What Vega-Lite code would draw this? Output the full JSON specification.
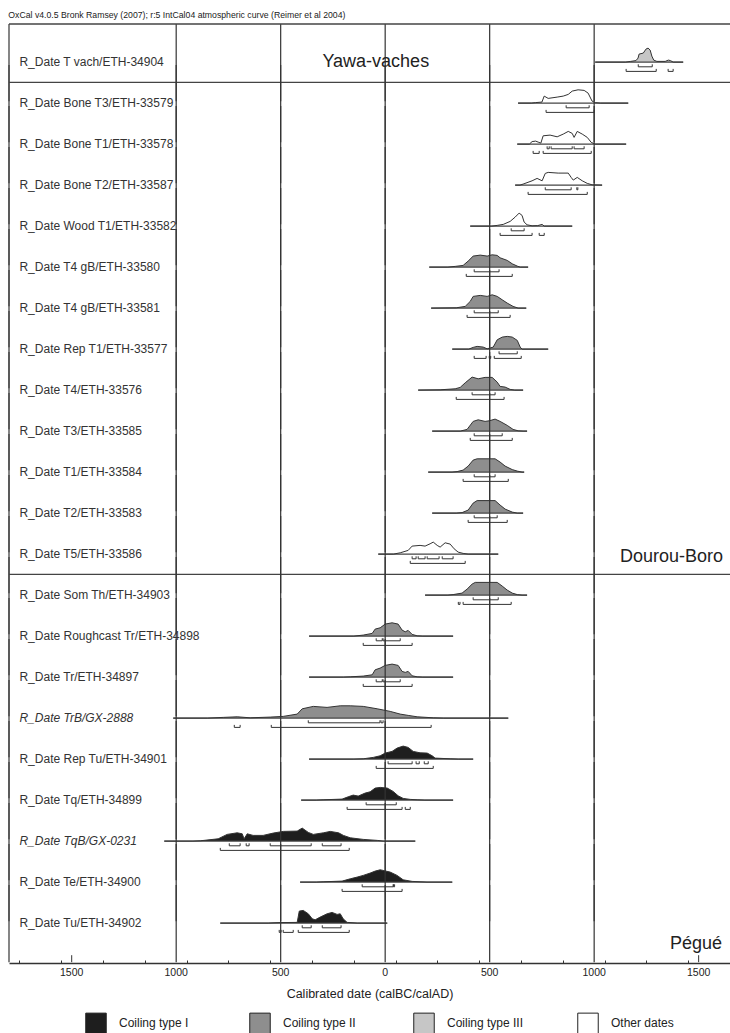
{
"$schema": "https://vega.github.io/schema/vega-lite/v6.json",
"padding": {"left": 8, "right": 0, "top": 10, "bottom": 0},
"title": {"text": "OxCal v4.0.5 Bronk Ramsey (2007); r:5 IntCal04 atmospheric curve (Reimer et al 2004)", "anchor": "start", "fontSize": 8.7, "fontWeight": "normal", "font": "Liberation Sans", "color": "#222", "offset": 4},
"datasets": {
"rows": [
{"kind":"s","id":"s01","label":"R_Date T vach/ETH-34904","site":"Yawa-vaches"},
{"kind":"s","id":"s02","label":"R_Date Bone T3/ETH-33579","site":"Dourou-Boro"},
{"kind":"s","id":"s03","label":"R_Date Bone T1/ETH-33578","site":"Dourou-Boro"},
{"kind":"s","id":"s04","label":"R_Date Bone T2/ETH-33587","site":"Dourou-Boro"},
{"kind":"s","id":"s05","label":"R_Date Wood T1/ETH-33582","site":"Dourou-Boro"},
{"kind":"s","id":"s06","label":"R_Date T4 gB/ETH-33580","site":"Dourou-Boro"},
{"kind":"s","id":"s07","label":"R_Date T4 gB/ETH-33581","site":"Dourou-Boro"},
{"kind":"s","id":"s08","label":"R_Date Rep T1/ETH-33577","site":"Dourou-Boro"},
{"kind":"s","id":"s09","label":"R_Date T4/ETH-33576","site":"Dourou-Boro"},
{"kind":"s","id":"s10","label":"R_Date T3/ETH-33585","site":"Dourou-Boro"},
{"kind":"s","id":"s11","label":"R_Date T1/ETH-33584","site":"Dourou-Boro"},
{"kind":"s","id":"s12","label":"R_Date T2/ETH-33583","site":"Dourou-Boro"},
{"kind":"s","id":"s13","label":"R_Date T5/ETH-33586","site":"Dourou-Boro"},
{"kind":"s","id":"s14","label":"R_Date Som Th/ETH-34903","site":"Pégué"},
{"kind":"s","id":"s15","label":"R_Date Roughcast Tr/ETH-34898","site":"Pégué"},
{"kind":"s","id":"s16","label":"R_Date Tr/ETH-34897","site":"Pégué"},
{"kind":"s","id":"s17","label":"R_Date TrB/GX-2888","site":"Pégué"},
{"kind":"s","id":"s18","label":"R_Date Rep Tu/ETH-34901","site":"Pégué"},
{"kind":"s","id":"s19","label":"R_Date Tq/ETH-34899","site":"Pégué"},
{"kind":"s","id":"s20","label":"R_Date TqB/GX-0231","site":"Pégué"},
{"kind":"s","id":"s21","label":"R_Date Te/ETH-34900","site":"Pégué"},
{"kind":"s","id":"s22","label":"R_Date Tu/ETH-34902","site":"Pégué"},

{"kind":"c","id":"s01","type":"Coiling type III","date":1005,"prob":0},
{"kind":"c","id":"s01","type":"Coiling type III","date":1150,"prob":0},
{"kind":"c","id":"s01","type":"Coiling type III","date":1175,"prob":0.7},
{"kind":"c","id":"s01","type":"Coiling type III","date":1200,"prob":1.5},
{"kind":"c","id":"s01","type":"Coiling type III","date":1210,"prob":4},
{"kind":"c","id":"s01","type":"Coiling type III","date":1215,"prob":8},
{"kind":"c","id":"s01","type":"Coiling type III","date":1235,"prob":9},
{"kind":"c","id":"s01","type":"Coiling type III","date":1248,"prob":13},
{"kind":"c","id":"s01","type":"Coiling type III","date":1258,"prob":14},
{"kind":"c","id":"s01","type":"Coiling type III","date":1268,"prob":12},
{"kind":"c","id":"s01","type":"Coiling type III","date":1276,"prob":6},
{"kind":"c","id":"s01","type":"Coiling type III","date":1285,"prob":2},
{"kind":"c","id":"s01","type":"Coiling type III","date":1300,"prob":0.7},
{"kind":"c","id":"s01","type":"Coiling type III","date":1340,"prob":0.7},
{"kind":"c","id":"s01","type":"Coiling type III","date":1355,"prob":2},
{"kind":"c","id":"s01","type":"Coiling type III","date":1365,"prob":1.5},
{"kind":"c","id":"s01","type":"Coiling type III","date":1378,"prob":0},
{"kind":"c","id":"s01","type":"Coiling type III","date":1426,"prob":0},

{"kind":"c","id":"s02","type":"Other dates","date":636,"prob":0},
{"kind":"c","id":"s02","type":"Other dates","date":700,"prob":0},
{"kind":"c","id":"s02","type":"Other dates","date":720,"prob":0.5},
{"kind":"c","id":"s02","type":"Other dates","date":750,"prob":1},
{"kind":"c","id":"s02","type":"Other dates","date":761,"prob":7},
{"kind":"c","id":"s02","type":"Other dates","date":780,"prob":4.7},
{"kind":"c","id":"s02","type":"Other dates","date":823,"prob":6},
{"kind":"c","id":"s02","type":"Other dates","date":852,"prob":7},
{"kind":"c","id":"s02","type":"Other dates","date":876,"prob":8.7},
{"kind":"c","id":"s02","type":"Other dates","date":895,"prob":12},
{"kind":"c","id":"s02","type":"Other dates","date":923,"prob":13.3},
{"kind":"c","id":"s02","type":"Other dates","date":952,"prob":12.7},
{"kind":"c","id":"s02","type":"Other dates","date":971,"prob":10},
{"kind":"c","id":"s02","type":"Other dates","date":990,"prob":2},
{"kind":"c","id":"s02","type":"Other dates","date":1005,"prob":0.5},
{"kind":"c","id":"s02","type":"Other dates","date":1030,"prob":0},
{"kind":"c","id":"s02","type":"Other dates","date":1163,"prob":0},

{"kind":"c","id":"s03","type":"Other dates","date":632,"prob":0},
{"kind":"c","id":"s03","type":"Other dates","date":690,"prob":0},
{"kind":"c","id":"s03","type":"Other dates","date":703,"prob":2.5},
{"kind":"c","id":"s03","type":"Other dates","date":720,"prob":3},
{"kind":"c","id":"s03","type":"Other dates","date":732,"prob":2},
{"kind":"c","id":"s03","type":"Other dates","date":745,"prob":1},
{"kind":"c","id":"s03","type":"Other dates","date":756,"prob":8.3},
{"kind":"c","id":"s03","type":"Other dates","date":789,"prob":9},
{"kind":"c","id":"s03","type":"Other dates","date":823,"prob":7.3},
{"kind":"c","id":"s03","type":"Other dates","date":852,"prob":10},
{"kind":"c","id":"s03","type":"Other dates","date":876,"prob":12.7},
{"kind":"c","id":"s03","type":"Other dates","date":895,"prob":10.7},
{"kind":"c","id":"s03","type":"Other dates","date":904,"prob":6.7},
{"kind":"c","id":"s03","type":"Other dates","date":919,"prob":12.7},
{"kind":"c","id":"s03","type":"Other dates","date":943,"prob":10},
{"kind":"c","id":"s03","type":"Other dates","date":967,"prob":6.7},
{"kind":"c","id":"s03","type":"Other dates","date":986,"prob":1.7},
{"kind":"c","id":"s03","type":"Other dates","date":1005,"prob":0},
{"kind":"c","id":"s03","type":"Other dates","date":1153,"prob":0},

{"kind":"c","id":"s04","type":"Other dates","date":622,"prob":0},
{"kind":"c","id":"s04","type":"Other dates","date":645,"prob":0},
{"kind":"c","id":"s04","type":"Other dates","date":660,"prob":1},
{"kind":"c","id":"s04","type":"Other dates","date":703,"prob":4.3},
{"kind":"c","id":"s04","type":"Other dates","date":727,"prob":6.7},
{"kind":"c","id":"s04","type":"Other dates","date":751,"prob":4.3},
{"kind":"c","id":"s04","type":"Other dates","date":766,"prob":11.7},
{"kind":"c","id":"s04","type":"Other dates","date":780,"prob":12.7},
{"kind":"c","id":"s04","type":"Other dates","date":828,"prob":12},
{"kind":"c","id":"s04","type":"Other dates","date":876,"prob":12},
{"kind":"c","id":"s04","type":"Other dates","date":890,"prob":7.7},
{"kind":"c","id":"s04","type":"Other dates","date":900,"prob":5},
{"kind":"c","id":"s04","type":"Other dates","date":919,"prob":7.7},
{"kind":"c","id":"s04","type":"Other dates","date":943,"prob":4.3},
{"kind":"c","id":"s04","type":"Other dates","date":967,"prob":1.7},
{"kind":"c","id":"s04","type":"Other dates","date":990,"prob":0.3},
{"kind":"c","id":"s04","type":"Other dates","date":1038,"prob":0},

{"kind":"c","id":"s05","type":"Other dates","date":407,"prob":0},
{"kind":"c","id":"s05","type":"Other dates","date":510,"prob":0},
{"kind":"c","id":"s05","type":"Other dates","date":536,"prob":0.7},
{"kind":"c","id":"s05","type":"Other dates","date":565,"prob":1.7},
{"kind":"c","id":"s05","type":"Other dates","date":598,"prob":4.7},
{"kind":"c","id":"s05","type":"Other dates","date":622,"prob":9},
{"kind":"c","id":"s05","type":"Other dates","date":641,"prob":13},
{"kind":"c","id":"s05","type":"Other dates","date":655,"prob":10.7},
{"kind":"c","id":"s05","type":"Other dates","date":665,"prob":4},
{"kind":"c","id":"s05","type":"Other dates","date":679,"prob":1.3},
{"kind":"c","id":"s05","type":"Other dates","date":703,"prob":0.3},
{"kind":"c","id":"s05","type":"Other dates","date":730,"prob":0.5},
{"kind":"c","id":"s05","type":"Other dates","date":751,"prob":1.7},
{"kind":"c","id":"s05","type":"Other dates","date":761,"prob":0},
{"kind":"c","id":"s05","type":"Other dates","date":895,"prob":0},

{"kind":"c","id":"s06","type":"Coiling type II","date":211,"prob":0},
{"kind":"c","id":"s06","type":"Coiling type II","date":300,"prob":0},
{"kind":"c","id":"s06","type":"Coiling type II","date":335,"prob":0.7},
{"kind":"c","id":"s06","type":"Coiling type II","date":373,"prob":1.7},
{"kind":"c","id":"s06","type":"Coiling type II","date":397,"prob":6},
{"kind":"c","id":"s06","type":"Coiling type II","date":421,"prob":11},
{"kind":"c","id":"s06","type":"Coiling type II","date":455,"prob":12},
{"kind":"c","id":"s06","type":"Coiling type II","date":488,"prob":11},
{"kind":"c","id":"s06","type":"Coiling type II","date":512,"prob":12.3},
{"kind":"c","id":"s06","type":"Coiling type II","date":536,"prob":11.7},
{"kind":"c","id":"s06","type":"Coiling type II","date":550,"prob":9.3},
{"kind":"c","id":"s06","type":"Coiling type II","date":584,"prob":6.7},
{"kind":"c","id":"s06","type":"Coiling type II","date":608,"prob":3.3},
{"kind":"c","id":"s06","type":"Coiling type II","date":632,"prob":1},
{"kind":"c","id":"s06","type":"Coiling type II","date":646,"prob":0},
{"kind":"c","id":"s06","type":"Coiling type II","date":684,"prob":0},

{"kind":"c","id":"s07","type":"Coiling type II","date":220,"prob":0},
{"kind":"c","id":"s07","type":"Coiling type II","date":340,"prob":0.3},
{"kind":"c","id":"s07","type":"Coiling type II","date":383,"prob":1.7},
{"kind":"c","id":"s07","type":"Coiling type II","date":407,"prob":6.7},
{"kind":"c","id":"s07","type":"Coiling type II","date":421,"prob":11.7},
{"kind":"c","id":"s07","type":"Coiling type II","date":455,"prob":12.7},
{"kind":"c","id":"s07","type":"Coiling type II","date":488,"prob":11.7},
{"kind":"c","id":"s07","type":"Coiling type II","date":512,"prob":13.3},
{"kind":"c","id":"s07","type":"Coiling type II","date":536,"prob":11.7},
{"kind":"c","id":"s07","type":"Coiling type II","date":560,"prob":8.3},
{"kind":"c","id":"s07","type":"Coiling type II","date":584,"prob":5},
{"kind":"c","id":"s07","type":"Coiling type II","date":612,"prob":1.7},
{"kind":"c","id":"s07","type":"Coiling type II","date":636,"prob":0},
{"kind":"c","id":"s07","type":"Coiling type II","date":675,"prob":0},

{"kind":"c","id":"s08","type":"Coiling type II","date":321,"prob":0},
{"kind":"c","id":"s08","type":"Coiling type II","date":400,"prob":0},
{"kind":"c","id":"s08","type":"Coiling type II","date":421,"prob":1.7},
{"kind":"c","id":"s08","type":"Coiling type II","date":440,"prob":2.7},
{"kind":"c","id":"s08","type":"Coiling type II","date":469,"prob":2},
{"kind":"c","id":"s08","type":"Coiling type II","date":488,"prob":0.3},
{"kind":"c","id":"s08","type":"Coiling type II","date":517,"prob":2},
{"kind":"c","id":"s08","type":"Coiling type II","date":536,"prob":9.3},
{"kind":"c","id":"s08","type":"Coiling type II","date":560,"prob":12},
{"kind":"c","id":"s08","type":"Coiling type II","date":584,"prob":12.7},
{"kind":"c","id":"s08","type":"Coiling type II","date":608,"prob":12},
{"kind":"c","id":"s08","type":"Coiling type II","date":632,"prob":8.7},
{"kind":"c","id":"s08","type":"Coiling type II","date":646,"prob":2},
{"kind":"c","id":"s08","type":"Coiling type II","date":655,"prob":0},
{"kind":"c","id":"s08","type":"Coiling type II","date":780,"prob":0},

{"kind":"c","id":"s09","type":"Coiling type II","date":158,"prob":0},
{"kind":"c","id":"s09","type":"Coiling type II","date":263,"prob":0.3},
{"kind":"c","id":"s09","type":"Coiling type II","date":335,"prob":1.3},
{"kind":"c","id":"s09","type":"Coiling type II","date":359,"prob":2.7},
{"kind":"c","id":"s09","type":"Coiling type II","date":383,"prob":7.3},
{"kind":"c","id":"s09","type":"Coiling type II","date":416,"prob":13},
{"kind":"c","id":"s09","type":"Coiling type II","date":445,"prob":11.3},
{"kind":"c","id":"s09","type":"Coiling type II","date":478,"prob":12.7},
{"kind":"c","id":"s09","type":"Coiling type II","date":512,"prob":12.7},
{"kind":"c","id":"s09","type":"Coiling type II","date":536,"prob":8},
{"kind":"c","id":"s09","type":"Coiling type II","date":550,"prob":3.7},
{"kind":"c","id":"s09","type":"Coiling type II","date":574,"prob":3},
{"kind":"c","id":"s09","type":"Coiling type II","date":598,"prob":0.7},
{"kind":"c","id":"s09","type":"Coiling type II","date":620,"prob":0},
{"kind":"c","id":"s09","type":"Coiling type II","date":660,"prob":0},

{"kind":"c","id":"s10","type":"Coiling type II","date":225,"prob":0},
{"kind":"c","id":"s10","type":"Coiling type II","date":360,"prob":0},
{"kind":"c","id":"s10","type":"Coiling type II","date":392,"prob":1.7},
{"kind":"c","id":"s10","type":"Coiling type II","date":421,"prob":9.7},
{"kind":"c","id":"s10","type":"Coiling type II","date":445,"prob":11.3},
{"kind":"c","id":"s10","type":"Coiling type II","date":478,"prob":9.7},
{"kind":"c","id":"s10","type":"Coiling type II","date":498,"prob":10.3},
{"kind":"c","id":"s10","type":"Coiling type II","date":526,"prob":12},
{"kind":"c","id":"s10","type":"Coiling type II","date":550,"prob":9.7},
{"kind":"c","id":"s10","type":"Coiling type II","date":584,"prob":5.7},
{"kind":"c","id":"s10","type":"Coiling type II","date":612,"prob":1.7},
{"kind":"c","id":"s10","type":"Coiling type II","date":636,"prob":0.3},
{"kind":"c","id":"s10","type":"Coiling type II","date":660,"prob":0},
{"kind":"c","id":"s10","type":"Coiling type II","date":679,"prob":0},

{"kind":"c","id":"s11","type":"Coiling type II","date":206,"prob":0},
{"kind":"c","id":"s11","type":"Coiling type II","date":320,"prob":0},
{"kind":"c","id":"s11","type":"Coiling type II","date":344,"prob":0.5},
{"kind":"c","id":"s11","type":"Coiling type II","date":373,"prob":2},
{"kind":"c","id":"s11","type":"Coiling type II","date":397,"prob":6},
{"kind":"c","id":"s11","type":"Coiling type II","date":421,"prob":12},
{"kind":"c","id":"s11","type":"Coiling type II","date":440,"prob":13.3},
{"kind":"c","id":"s11","type":"Coiling type II","date":526,"prob":13.3},
{"kind":"c","id":"s11","type":"Coiling type II","date":550,"prob":10},
{"kind":"c","id":"s11","type":"Coiling type II","date":574,"prob":6},
{"kind":"c","id":"s11","type":"Coiling type II","date":608,"prob":2.5},
{"kind":"c","id":"s11","type":"Coiling type II","date":632,"prob":1},
{"kind":"c","id":"s11","type":"Coiling type II","date":655,"prob":0},
{"kind":"c","id":"s11","type":"Coiling type II","date":665,"prob":0},

{"kind":"c","id":"s12","type":"Coiling type II","date":225,"prob":0},
{"kind":"c","id":"s12","type":"Coiling type II","date":340,"prob":0},
{"kind":"c","id":"s12","type":"Coiling type II","date":368,"prob":0.5},
{"kind":"c","id":"s12","type":"Coiling type II","date":397,"prob":3},
{"kind":"c","id":"s12","type":"Coiling type II","date":421,"prob":10},
{"kind":"c","id":"s12","type":"Coiling type II","date":440,"prob":12.5},
{"kind":"c","id":"s12","type":"Coiling type II","date":526,"prob":12.5},
{"kind":"c","id":"s12","type":"Coiling type II","date":550,"prob":8},
{"kind":"c","id":"s12","type":"Coiling type II","date":574,"prob":4},
{"kind":"c","id":"s12","type":"Coiling type II","date":608,"prob":1},
{"kind":"c","id":"s12","type":"Coiling type II","date":632,"prob":0},
{"kind":"c","id":"s12","type":"Coiling type II","date":660,"prob":0},

{"kind":"c","id":"s13","type":"Other dates","date":-33,"prob":0},
{"kind":"c","id":"s13","type":"Other dates","date":40,"prob":0},
{"kind":"c","id":"s13","type":"Other dates","date":72,"prob":1.3},
{"kind":"c","id":"s13","type":"Other dates","date":110,"prob":3.7},
{"kind":"c","id":"s13","type":"Other dates","date":129,"prob":8},
{"kind":"c","id":"s13","type":"Other dates","date":167,"prob":8.7},
{"kind":"c","id":"s13","type":"Other dates","date":191,"prob":8},
{"kind":"c","id":"s13","type":"Other dates","date":215,"prob":10.3},
{"kind":"c","id":"s13","type":"Other dates","date":230,"prob":12},
{"kind":"c","id":"s13","type":"Other dates","date":249,"prob":8.7},
{"kind":"c","id":"s13","type":"Other dates","date":263,"prob":7},
{"kind":"c","id":"s13","type":"Other dates","date":287,"prob":11.3},
{"kind":"c","id":"s13","type":"Other dates","date":311,"prob":10},
{"kind":"c","id":"s13","type":"Other dates","date":330,"prob":5.3},
{"kind":"c","id":"s13","type":"Other dates","date":349,"prob":2},
{"kind":"c","id":"s13","type":"Other dates","date":373,"prob":0.7},
{"kind":"c","id":"s13","type":"Other dates","date":397,"prob":0},
{"kind":"c","id":"s13","type":"Other dates","date":541,"prob":0},

{"kind":"c","id":"s14","type":"Coiling type II","date":191,"prob":0},
{"kind":"c","id":"s14","type":"Coiling type II","date":300,"prob":0},
{"kind":"c","id":"s14","type":"Coiling type II","date":325,"prob":0.5},
{"kind":"c","id":"s14","type":"Coiling type II","date":368,"prob":2},
{"kind":"c","id":"s14","type":"Coiling type II","date":392,"prob":6},
{"kind":"c","id":"s14","type":"Coiling type II","date":416,"prob":11},
{"kind":"c","id":"s14","type":"Coiling type II","date":431,"prob":12.7},
{"kind":"c","id":"s14","type":"Coiling type II","date":536,"prob":12.7},
{"kind":"c","id":"s14","type":"Coiling type II","date":560,"prob":9},
{"kind":"c","id":"s14","type":"Coiling type II","date":584,"prob":5},
{"kind":"c","id":"s14","type":"Coiling type II","date":608,"prob":2},
{"kind":"c","id":"s14","type":"Coiling type II","date":632,"prob":0.5},
{"kind":"c","id":"s14","type":"Coiling type II","date":655,"prob":0},
{"kind":"c","id":"s14","type":"Coiling type II","date":679,"prob":0},

{"kind":"c","id":"s15","type":"Coiling type II","date":-364,"prob":0},
{"kind":"c","id":"s15","type":"Coiling type II","date":-150,"prob":0},
{"kind":"c","id":"s15","type":"Coiling type II","date":-105,"prob":1},
{"kind":"c","id":"s15","type":"Coiling type II","date":-62,"prob":2.7},
{"kind":"c","id":"s15","type":"Coiling type II","date":-48,"prob":7},
{"kind":"c","id":"s15","type":"Coiling type II","date":-24,"prob":8.3},
{"kind":"c","id":"s15","type":"Coiling type II","date":0,"prob":12},
{"kind":"c","id":"s15","type":"Coiling type II","date":33,"prob":13.3},
{"kind":"c","id":"s15","type":"Coiling type II","date":62,"prob":12},
{"kind":"c","id":"s15","type":"Coiling type II","date":81,"prob":6},
{"kind":"c","id":"s15","type":"Coiling type II","date":96,"prob":4.3},
{"kind":"c","id":"s15","type":"Coiling type II","date":110,"prob":5.7},
{"kind":"c","id":"s15","type":"Coiling type II","date":129,"prob":1.7},
{"kind":"c","id":"s15","type":"Coiling type II","date":153,"prob":0.3},
{"kind":"c","id":"s15","type":"Coiling type II","date":180,"prob":0},
{"kind":"c","id":"s15","type":"Coiling type II","date":325,"prob":0},

{"kind":"c","id":"s16","type":"Coiling type II","date":-364,"prob":0},
{"kind":"c","id":"s16","type":"Coiling type II","date":-200,"prob":0},
{"kind":"c","id":"s16","type":"Coiling type II","date":-167,"prob":0.3},
{"kind":"c","id":"s16","type":"Coiling type II","date":-105,"prob":1},
{"kind":"c","id":"s16","type":"Coiling type II","date":-62,"prob":2.3},
{"kind":"c","id":"s16","type":"Coiling type II","date":-48,"prob":7.3},
{"kind":"c","id":"s16","type":"Coiling type II","date":-24,"prob":9},
{"kind":"c","id":"s16","type":"Coiling type II","date":0,"prob":11.7},
{"kind":"c","id":"s16","type":"Coiling type II","date":33,"prob":13},
{"kind":"c","id":"s16","type":"Coiling type II","date":62,"prob":11.7},
{"kind":"c","id":"s16","type":"Coiling type II","date":81,"prob":5.7},
{"kind":"c","id":"s16","type":"Coiling type II","date":96,"prob":4.7},
{"kind":"c","id":"s16","type":"Coiling type II","date":110,"prob":5.7},
{"kind":"c","id":"s16","type":"Coiling type II","date":129,"prob":1.3},
{"kind":"c","id":"s16","type":"Coiling type II","date":153,"prob":0.3},
{"kind":"c","id":"s16","type":"Coiling type II","date":180,"prob":0},
{"kind":"c","id":"s16","type":"Coiling type II","date":325,"prob":0},

{"kind":"c","id":"s17","type":"Coiling type II","date":-1014,"prob":0},
{"kind":"c","id":"s17","type":"Coiling type II","date":-850,"prob":0},
{"kind":"c","id":"s17","type":"Coiling type II","date":-775,"prob":0.7},
{"kind":"c","id":"s17","type":"Coiling type II","date":-708,"prob":1.3},
{"kind":"c","id":"s17","type":"Coiling type II","date":-646,"prob":0.3},
{"kind":"c","id":"s17","type":"Coiling type II","date":-550,"prob":1},
{"kind":"c","id":"s17","type":"Coiling type II","date":-488,"prob":1.7},
{"kind":"c","id":"s17","type":"Coiling type II","date":-421,"prob":4},
{"kind":"c","id":"s17","type":"Coiling type II","date":-397,"prob":9.3},
{"kind":"c","id":"s17","type":"Coiling type II","date":-344,"prob":11.7},
{"kind":"c","id":"s17","type":"Coiling type II","date":-278,"prob":10.7},
{"kind":"c","id":"s17","type":"Coiling type II","date":-215,"prob":12.3},
{"kind":"c","id":"s17","type":"Coiling type II","date":-167,"prob":12.3},
{"kind":"c","id":"s17","type":"Coiling type II","date":-105,"prob":11.7},
{"kind":"c","id":"s17","type":"Coiling type II","date":-38,"prob":9.3},
{"kind":"c","id":"s17","type":"Coiling type II","date":24,"prob":6.7},
{"kind":"c","id":"s17","type":"Coiling type II","date":72,"prob":4},
{"kind":"c","id":"s17","type":"Coiling type II","date":110,"prob":2.7},
{"kind":"c","id":"s17","type":"Coiling type II","date":153,"prob":1.3},
{"kind":"c","id":"s17","type":"Coiling type II","date":230,"prob":0.3},
{"kind":"c","id":"s17","type":"Coiling type II","date":280,"prob":0},
{"kind":"c","id":"s17","type":"Coiling type II","date":589,"prob":0},

{"kind":"c","id":"s18","type":"Coiling type I","date":-364,"prob":0},
{"kind":"c","id":"s18","type":"Coiling type I","date":-150,"prob":0},
{"kind":"c","id":"s18","type":"Coiling type I","date":-105,"prob":0.3},
{"kind":"c","id":"s18","type":"Coiling type I","date":-57,"prob":1.7},
{"kind":"c","id":"s18","type":"Coiling type I","date":-24,"prob":3.3},
{"kind":"c","id":"s18","type":"Coiling type I","date":0,"prob":6},
{"kind":"c","id":"s18","type":"Coiling type I","date":33,"prob":7.7},
{"kind":"c","id":"s18","type":"Coiling type I","date":57,"prob":11},
{"kind":"c","id":"s18","type":"Coiling type I","date":86,"prob":13},
{"kind":"c","id":"s18","type":"Coiling type I","date":110,"prob":11.7},
{"kind":"c","id":"s18","type":"Coiling type I","date":134,"prob":7.7},
{"kind":"c","id":"s18","type":"Coiling type I","date":167,"prob":6.3},
{"kind":"c","id":"s18","type":"Coiling type I","date":201,"prob":6},
{"kind":"c","id":"s18","type":"Coiling type I","date":225,"prob":3.3},
{"kind":"c","id":"s18","type":"Coiling type I","date":239,"prob":1},
{"kind":"c","id":"s18","type":"Coiling type I","date":311,"prob":0.3},
{"kind":"c","id":"s18","type":"Coiling type I","date":350,"prob":0},
{"kind":"c","id":"s18","type":"Coiling type I","date":421,"prob":0},

{"kind":"c","id":"s19","type":"Coiling type I","date":-402,"prob":0},
{"kind":"c","id":"s19","type":"Coiling type I","date":-330,"prob":0},
{"kind":"c","id":"s19","type":"Coiling type I","date":-297,"prob":0.3},
{"kind":"c","id":"s19","type":"Coiling type I","date":-206,"prob":1},
{"kind":"c","id":"s19","type":"Coiling type I","date":-177,"prob":3.3},
{"kind":"c","id":"s19","type":"Coiling type I","date":-153,"prob":5},
{"kind":"c","id":"s19","type":"Coiling type I","date":-129,"prob":4},
{"kind":"c","id":"s19","type":"Coiling type I","date":-96,"prob":7},
{"kind":"c","id":"s19","type":"Coiling type I","date":-72,"prob":8.3},
{"kind":"c","id":"s19","type":"Coiling type I","date":-48,"prob":12},
{"kind":"c","id":"s19","type":"Coiling type I","date":-24,"prob":12.7},
{"kind":"c","id":"s19","type":"Coiling type I","date":10,"prob":12},
{"kind":"c","id":"s19","type":"Coiling type I","date":38,"prob":8.7},
{"kind":"c","id":"s19","type":"Coiling type I","date":62,"prob":4.3},
{"kind":"c","id":"s19","type":"Coiling type I","date":86,"prob":1.7},
{"kind":"c","id":"s19","type":"Coiling type I","date":120,"prob":0.7},
{"kind":"c","id":"s19","type":"Coiling type I","date":153,"prob":0.3},
{"kind":"c","id":"s19","type":"Coiling type I","date":190,"prob":0},
{"kind":"c","id":"s19","type":"Coiling type I","date":325,"prob":0},

{"kind":"c","id":"s20","type":"Coiling type I","date":-1057,"prob":0},
{"kind":"c","id":"s20","type":"Coiling type I","date":-920,"prob":0},
{"kind":"c","id":"s20","type":"Coiling type I","date":-885,"prob":0.3},
{"kind":"c","id":"s20","type":"Coiling type I","date":-799,"prob":2.3},
{"kind":"c","id":"s20","type":"Coiling type I","date":-756,"prob":6.7},
{"kind":"c","id":"s20","type":"Coiling type I","date":-708,"prob":8.3},
{"kind":"c","id":"s20","type":"Coiling type I","date":-684,"prob":7.3},
{"kind":"c","id":"s20","type":"Coiling type I","date":-675,"prob":2.3},
{"kind":"c","id":"s20","type":"Coiling type I","date":-660,"prob":7.3},
{"kind":"c","id":"s20","type":"Coiling type I","date":-632,"prob":5.7},
{"kind":"c","id":"s20","type":"Coiling type I","date":-584,"prob":5.7},
{"kind":"c","id":"s20","type":"Coiling type I","date":-536,"prob":8},
{"kind":"c","id":"s20","type":"Coiling type I","date":-488,"prob":9.7},
{"kind":"c","id":"s20","type":"Coiling type I","date":-421,"prob":10},
{"kind":"c","id":"s20","type":"Coiling type I","date":-397,"prob":13},
{"kind":"c","id":"s20","type":"Coiling type I","date":-368,"prob":8.7},
{"kind":"c","id":"s20","type":"Coiling type I","date":-344,"prob":6.7},
{"kind":"c","id":"s20","type":"Coiling type I","date":-295,"prob":8.3},
{"kind":"c","id":"s20","type":"Coiling type I","date":-263,"prob":9.7},
{"kind":"c","id":"s20","type":"Coiling type I","date":-223,"prob":8.3},
{"kind":"c","id":"s20","type":"Coiling type I","date":-200,"prob":5.7},
{"kind":"c","id":"s20","type":"Coiling type I","date":-167,"prob":3.3},
{"kind":"c","id":"s20","type":"Coiling type I","date":-105,"prob":1.7},
{"kind":"c","id":"s20","type":"Coiling type I","date":-38,"prob":0.7},
{"kind":"c","id":"s20","type":"Coiling type I","date":-10,"prob":0},
{"kind":"c","id":"s20","type":"Coiling type I","date":144,"prob":0},

{"kind":"c","id":"s21","type":"Coiling type I","date":-407,"prob":0},
{"kind":"c","id":"s21","type":"Coiling type I","date":-330,"prob":0},
{"kind":"c","id":"s21","type":"Coiling type I","date":-297,"prob":0.3},
{"kind":"c","id":"s21","type":"Coiling type I","date":-206,"prob":1},
{"kind":"c","id":"s21","type":"Coiling type I","date":-167,"prob":3.3},
{"kind":"c","id":"s21","type":"Coiling type I","date":-134,"prob":5},
{"kind":"c","id":"s21","type":"Coiling type I","date":-105,"prob":6.7},
{"kind":"c","id":"s21","type":"Coiling type I","date":-72,"prob":9},
{"kind":"c","id":"s21","type":"Coiling type I","date":-48,"prob":11},
{"kind":"c","id":"s21","type":"Coiling type I","date":-24,"prob":12.3},
{"kind":"c","id":"s21","type":"Coiling type I","date":-10,"prob":11.7},
{"kind":"c","id":"s21","type":"Coiling type I","date":24,"prob":10},
{"kind":"c","id":"s21","type":"Coiling type I","date":57,"prob":6.7},
{"kind":"c","id":"s21","type":"Coiling type I","date":86,"prob":2.3},
{"kind":"c","id":"s21","type":"Coiling type I","date":129,"prob":0.7},
{"kind":"c","id":"s21","type":"Coiling type I","date":167,"prob":0.3},
{"kind":"c","id":"s21","type":"Coiling type I","date":200,"prob":0},
{"kind":"c","id":"s21","type":"Coiling type I","date":321,"prob":0},

{"kind":"c","id":"s22","type":"Coiling type I","date":-789,"prob":0},
{"kind":"c","id":"s22","type":"Coiling type I","date":-560,"prob":0},
{"kind":"c","id":"s22","type":"Coiling type I","date":-502,"prob":0.5},
{"kind":"c","id":"s22","type":"Coiling type I","date":-421,"prob":0.7},
{"kind":"c","id":"s22","type":"Coiling type I","date":-411,"prob":12},
{"kind":"c","id":"s22","type":"Coiling type I","date":-392,"prob":12.7},
{"kind":"c","id":"s22","type":"Coiling type I","date":-368,"prob":9.3},
{"kind":"c","id":"s22","type":"Coiling type I","date":-349,"prob":4.3},
{"kind":"c","id":"s22","type":"Coiling type I","date":-335,"prob":3.3},
{"kind":"c","id":"s22","type":"Coiling type I","date":-311,"prob":6},
{"kind":"c","id":"s22","type":"Coiling type I","date":-278,"prob":9.3},
{"kind":"c","id":"s22","type":"Coiling type I","date":-254,"prob":10.7},
{"kind":"c","id":"s22","type":"Coiling type I","date":-230,"prob":8.7},
{"kind":"c","id":"s22","type":"Coiling type I","date":-215,"prob":9.3},
{"kind":"c","id":"s22","type":"Coiling type I","date":-201,"prob":4.3},
{"kind":"c","id":"s22","type":"Coiling type I","date":-182,"prob":0.7},
{"kind":"c","id":"s22","type":"Coiling type I","date":-134,"prob":0},
{"kind":"c","id":"s22","type":"Coiling type I","date":10,"prob":0},

{"kind":"r","id":"s01","level":"68","from":1211,"to":1278},
{"kind":"r","id":"s01","level":"95","from":1153,"to":1297},
{"kind":"r","id":"s01","level":"95","from":1354,"to":1378},
{"kind":"r","id":"s02","level":"68","from":866,"to":976},
{"kind":"r","id":"s02","level":"95","from":770,"to":1000},
{"kind":"r","id":"s03","level":"68","from":775,"to":785},
{"kind":"r","id":"s03","level":"68","from":794,"to":895},
{"kind":"r","id":"s03","level":"68","from":904,"to":952},
{"kind":"r","id":"s03","level":"95","from":708,"to":737},
{"kind":"r","id":"s03","level":"95","from":756,"to":986},
{"kind":"r","id":"s04","level":"68","from":766,"to":890},
{"kind":"r","id":"s04","level":"68","from":917,"to":922},
{"kind":"r","id":"s04","level":"95","from":684,"to":967},
{"kind":"r","id":"s05","level":"68","from":603,"to":665},
{"kind":"r","id":"s05","level":"95","from":550,"to":703},
{"kind":"r","id":"s05","level":"95","from":737,"to":761},
{"kind":"r","id":"s06","level":"68","from":426,"to":545},
{"kind":"r","id":"s06","level":"95","from":388,"to":608},
{"kind":"r","id":"s07","level":"68","from":426,"to":541},
{"kind":"r","id":"s07","level":"95","from":392,"to":598},
{"kind":"r","id":"s08","level":"68","from":545,"to":632},
{"kind":"r","id":"s08","level":"95","from":426,"to":483},
{"kind":"r","id":"s08","level":"95","from":498,"to":505},
{"kind":"r","id":"s08","level":"95","from":522,"to":651},
{"kind":"r","id":"s09","level":"68","from":416,"to":526},
{"kind":"r","id":"s09","level":"95","from":340,"to":569},
{"kind":"r","id":"s10","level":"68","from":426,"to":560},
{"kind":"r","id":"s10","level":"95","from":407,"to":608},
{"kind":"r","id":"s11","level":"68","from":426,"to":526},
{"kind":"r","id":"s11","level":"95","from":373,"to":589},
{"kind":"r","id":"s12","level":"68","from":426,"to":536},
{"kind":"r","id":"s12","level":"95","from":397,"to":584},
{"kind":"r","id":"s13","level":"68","from":129,"to":148},
{"kind":"r","id":"s13","level":"68","from":158,"to":191},
{"kind":"r","id":"s13","level":"68","from":201,"to":258},
{"kind":"r","id":"s13","level":"68","from":273,"to":325},
{"kind":"r","id":"s13","level":"95","from":120,"to":383},
{"kind":"r","id":"s14","level":"68","from":421,"to":541},
{"kind":"r","id":"s14","level":"95","from":350,"to":358},
{"kind":"r","id":"s14","level":"95","from":373,"to":603},
{"kind":"r","id":"s15","level":"68","from":-43,"to":-14},
{"kind":"r","id":"s15","level":"68","from":-10,"to":72},
{"kind":"r","id":"s15","level":"95","from":-105,"to":129},
{"kind":"r","id":"s16","level":"68","from":-43,"to":-14},
{"kind":"r","id":"s16","level":"68","from":-10,"to":72},
{"kind":"r","id":"s16","level":"95","from":-105,"to":129},
{"kind":"r","id":"s17","level":"68","from":-368,"to":-25},
{"kind":"r","id":"s17","level":"68","from":-20,"to":-10},
{"kind":"r","id":"s17","level":"95","from":-722,"to":-694},
{"kind":"r","id":"s17","level":"95","from":-545,"to":220},
{"kind":"r","id":"s18","level":"68","from":14,"to":129},
{"kind":"r","id":"s18","level":"68","from":148,"to":163},
{"kind":"r","id":"s18","level":"68","from":187,"to":206},
{"kind":"r","id":"s18","level":"95","from":-43,"to":230},
{"kind":"r","id":"s19","level":"68","from":-91,"to":53},
{"kind":"r","id":"s19","level":"95","from":-182,"to":81},
{"kind":"r","id":"s19","level":"95","from":96,"to":120},
{"kind":"r","id":"s20","level":"68","from":-746,"to":-694},
{"kind":"r","id":"s20","level":"68","from":-665,"to":-651},
{"kind":"r","id":"s20","level":"68","from":-550,"to":-354},
{"kind":"r","id":"s20","level":"68","from":-301,"to":-211},
{"kind":"r","id":"s20","level":"95","from":-789,"to":-172},
{"kind":"r","id":"s21","level":"68","from":-110,"to":38},
{"kind":"r","id":"s21","level":"68","from":40,"to":45},
{"kind":"r","id":"s21","level":"95","from":-206,"to":81},
{"kind":"r","id":"s22","level":"68","from":-397,"to":-354},
{"kind":"r","id":"s22","level":"68","from":-301,"to":-211},
{"kind":"r","id":"s22","level":"95","from":-507,"to":-498},
{"kind":"r","id":"s22","level":"95","from":-488,"to":-440},
{"kind":"r","id":"s22","level":"95","from":-416,"to":-172}
]
},
"data": {"name": "rows"},
"spacing": {"row": 0},
"bounds": "flush",
"facet": {"row": {"field": "id", "type": "nominal", "title": null, "header": {"labels": false, "title": null, "labelPadding": 0, "titlePadding": 0}}},
"spec": {
"width": 721, "height": 40.2,
"layer": [
{
"transform": [{"filter": "datum.kind === 'c'"}],
"mark": {"type": "area", "opacity": 1, "interpolate": "linear"},
"encoding": {
"x": {"field": "date", "type": "quantitative", "scale": {"domain": [-1800, 1650], "nice": false, "zero": false},
"axis": {"orient": "bottom", "offset": 19,
"values": [-1750,-1700,-1650,-1600,-1550,-1500,-1450,-1400,-1350,-1300,-1250,-1200,-1150,-1100,-1050,-1000,-950,-900,-850,-800,-750,-700,-650,-600,-550,-500,-450,-400,-350,-300,-250,-200,-150,-100,-50,0,50,100,150,200,250,300,350,400,450,500,550,600,650,700,750,800,850,900,950,1000,1050,1100,1150,1200,1250,1300,1350,1400,1450,1500,1550,1600],
"grid": false,
"ticks": true, "tickColor": "#333", "tickWidth": 1, "tickSize": -3,
"labels": false,
"domain": true, "domainColor": "#333", "domainWidth": 1.3,
"title": "Calibrated date (calBC/calAD)", "titleFont": "Liberation Sans", "titleFontSize": 12.5, "titleFontWeight": "normal", "titleColor": "#222", "titlePadding": 24}},
"y": {"field": "prob", "type": "quantitative", "scale": {"domain": [-20.1, 20.1], "nice": false, "zero": false}},
"y2": {"datum": 0},
"fill": {"field": "type", "type": "nominal",
"scale": {"domain": ["Coiling type I", "Coiling type II", "Coiling type III", "Other dates"], "range": ["#1e1e1e", "#8e8e8e", "#c6c6c6", "#ffffff"]},
"legend": {"title": null, "orient": "none", "legendX": 76, "legendY": 970, "direction": "horizontal", "symbolType": "square", "symbolSize": 420, "symbolStrokeColor": "#222", "symbolStrokeWidth": 1, "symbolOpacity": 1, "labelFontSize": 12, "labelOffset": 12, "labelColor": "#222", "labelFont": "Liberation Sans", "columnPadding": 51, "gridAlign": "all"}}
}
},
{
"transform": [{"filter": "datum.kind === 'c'"}, {"aggregate": [{"op": "min", "field": "date", "as": "dmin"}, {"op": "max", "field": "date", "as": "dmax"}], "groupby": ["id"]}],
"mark": {"type": "rule", "color": "#444", "strokeWidth": 1.2},
"encoding": {
"x": {"field": "dmin", "type": "quantitative"},
"x2": {"field": "dmax"},
"y": {"datum": 0, "type": "quantitative"}
}
},
{
"transform": [{"filter": "datum.kind === 'c'"}],
"mark": {"type": "line", "color": "#333", "strokeWidth": 1},
"encoding": {
"x": {"field": "date", "type": "quantitative"},
"y": {"field": "prob", "type": "quantitative"}
}
},
{
"transform": [{"filter": "datum.kind === 'r' && datum.level === '68'"}],
"mark": {"type": "rule", "color": "#333", "strokeWidth": 1},
"encoding": {
"x": {"field": "from", "type": "quantitative"},
"x2": {"field": "to"},
"y": {"datum": -4.7, "type": "quantitative"}
}
},
{
"transform": [{"filter": "datum.kind === 'r' && datum.level === '68'"}],
"mark": {"type": "rule", "color": "#333", "strokeWidth": 1},
"encoding": {
"x": {"field": "from", "type": "quantitative"},
"y": {"datum": -4.7, "type": "quantitative"},
"y2": {"datum": -2.2}
}
},
{
"transform": [{"filter": "datum.kind === 'r' && datum.level === '68'"}],
"mark": {"type": "rule", "color": "#333", "strokeWidth": 1},
"encoding": {
"x": {"field": "to", "type": "quantitative"},
"y": {"datum": -4.7, "type": "quantitative"},
"y2": {"datum": -2.2}
}
},
{
"transform": [{"filter": "datum.kind === 'r' && datum.level === '95'"}],
"mark": {"type": "rule", "color": "#333", "strokeWidth": 1},
"encoding": {
"x": {"field": "from", "type": "quantitative"},
"x2": {"field": "to"},
"y": {"datum": -9.3, "type": "quantitative"}
}
},
{
"transform": [{"filter": "datum.kind === 'r' && datum.level === '95'"}],
"mark": {"type": "rule", "color": "#333", "strokeWidth": 1},
"encoding": {
"x": {"field": "from", "type": "quantitative"},
"y": {"datum": -9.3, "type": "quantitative"},
"y2": {"datum": -6.8}
}
},
{
"transform": [{"filter": "datum.kind === 'r' && datum.level === '95'"}],
"mark": {"type": "rule", "color": "#333", "strokeWidth": 1},
"encoding": {
"x": {"field": "to", "type": "quantitative"},
"y": {"datum": -9.3, "type": "quantitative"},
"y2": {"datum": -6.8}
}
},
{
"transform": [{"filter": "datum.kind === 's'"}],
"mark": {"type": "rule", "color": "#444", "strokeWidth": 1.3},
"encoding": {"x": {"datum": -1800, "type": "quantitative"}, "y": {"datum": 38.1, "type": "quantitative"}, "y2": {"datum": -39.1}}
},
{
"transform": [{"filter": "datum.kind === 's'"}],
"mark": {"type": "rule", "color": "#333", "strokeWidth": 1.2},
"encoding": {"x": {"datum": -1000, "type": "quantitative"}, "y": {"datum": 38.1, "type": "quantitative"}, "y2": {"datum": -39.1}}
},
{
"transform": [{"filter": "datum.kind === 's'"}],
"mark": {"type": "rule", "color": "#333", "strokeWidth": 1.2},
"encoding": {"x": {"datum": -500, "type": "quantitative"}, "y": {"datum": 38.1, "type": "quantitative"}, "y2": {"datum": -39.1}}
},
{
"transform": [{"filter": "datum.kind === 's'"}],
"mark": {"type": "rule", "color": "#333", "strokeWidth": 1.2},
"encoding": {"x": {"datum": 0, "type": "quantitative"}, "y": {"datum": 38.1, "type": "quantitative"}, "y2": {"datum": -39.1}}
},
{
"transform": [{"filter": "datum.kind === 's'"}],
"mark": {"type": "rule", "color": "#333", "strokeWidth": 1.2},
"encoding": {"x": {"datum": 500, "type": "quantitative"}, "y": {"datum": 38.1, "type": "quantitative"}, "y2": {"datum": -39.1}}
},
{
"transform": [{"filter": "datum.kind === 's'"}],
"mark": {"type": "rule", "color": "#333", "strokeWidth": 1.2},
"encoding": {"x": {"datum": 1000, "type": "quantitative"}, "y": {"datum": 38.1, "type": "quantitative"}, "y2": {"datum": -39.1}}
},
{
"transform": [{"filter": "datum.kind === 's' && datum.id === 's22'"}],
"mark": {"type": "rule", "color": "#333", "strokeWidth": 1},
"encoding": {"x": {"datum": -1500, "type": "quantitative"}, "y": {"datum": -39.1, "type": "quantitative"}, "y2": {"datum": -32.1}}
},
{
"transform": [{"filter": "datum.kind === 's' && datum.id === 's22'"}],
"mark": {"type": "rule", "color": "#333", "strokeWidth": 1},
"encoding": {"x": {"datum": 1500, "type": "quantitative"}, "y": {"datum": -39.1, "type": "quantitative"}, "y2": {"datum": -32.1}}
},
{
"transform": [{"filter": "datum.kind === 's' && datum.id === 's22'"}],
"mark": {"type": "text", "align": "center", "baseline": "middle", "fontSize": 10.5, "font": "Liberation Sans", "color": "#222", "text": "1500"},
"encoding": {"x": {"datum": -1500, "type": "quantitative"}, "y": {"datum": -49.5, "type": "quantitative"}}
},
{
"transform": [{"filter": "datum.kind === 's' && datum.id === 's22'"}],
"mark": {"type": "text", "align": "center", "baseline": "middle", "fontSize": 10.5, "font": "Liberation Sans", "color": "#222", "text": "1000"},
"encoding": {"x": {"datum": -1000, "type": "quantitative"}, "y": {"datum": -49.5, "type": "quantitative"}}
},
{
"transform": [{"filter": "datum.kind === 's' && datum.id === 's22'"}],
"mark": {"type": "text", "align": "center", "baseline": "middle", "fontSize": 10.5, "font": "Liberation Sans", "color": "#222", "text": "500"},
"encoding": {"x": {"datum": -500, "type": "quantitative"}, "y": {"datum": -49.5, "type": "quantitative"}}
},
{
"transform": [{"filter": "datum.kind === 's' && datum.id === 's22'"}],
"mark": {"type": "text", "align": "center", "baseline": "middle", "fontSize": 10.5, "font": "Liberation Sans", "color": "#222", "text": "0"},
"encoding": {"x": {"datum": 0, "type": "quantitative"}, "y": {"datum": -49.5, "type": "quantitative"}}
},
{
"transform": [{"filter": "datum.kind === 's' && datum.id === 's22'"}],
"mark": {"type": "text", "align": "center", "baseline": "middle", "fontSize": 10.5, "font": "Liberation Sans", "color": "#222", "text": "500"},
"encoding": {"x": {"datum": 500, "type": "quantitative"}, "y": {"datum": -49.5, "type": "quantitative"}}
},
{
"transform": [{"filter": "datum.kind === 's' && datum.id === 's22'"}],
"mark": {"type": "text", "align": "center", "baseline": "middle", "fontSize": 10.5, "font": "Liberation Sans", "color": "#222", "text": "1000"},
"encoding": {"x": {"datum": 1000, "type": "quantitative"}, "y": {"datum": -49.5, "type": "quantitative"}}
},
{
"transform": [{"filter": "datum.kind === 's' && datum.id === 's22'"}],
"mark": {"type": "text", "align": "center", "baseline": "middle", "fontSize": 10.5, "font": "Liberation Sans", "color": "#222", "text": "1500"},
"encoding": {"x": {"datum": 1500, "type": "quantitative"}, "y": {"datum": -49.5, "type": "quantitative"}}
},
{
"transform": [{"filter": "datum.kind === 's' && datum.id === 's01'"}],
"mark": {"type": "rule", "color": "#444", "strokeWidth": 1.3},
"encoding": {"y": {"datum": 38.1, "type": "quantitative"}}
},
{
"transform": [{"filter": "datum.kind === 's' && indexof(datum.label, 'GX-') < 0"}],
"mark": {"type": "text", "align": "left", "baseline": "middle", "fontSize": 12, "font": "Liberation Sans", "color": "#333"},
"encoding": {
"x": {"datum": -1750, "type": "quantitative"},
"y": {"datum": 0, "type": "quantitative"},
"text": {"field": "label"}
}
},
{
"transform": [{"filter": "datum.kind === 's' && indexof(datum.label, 'GX-') >= 0"}],
"mark": {"type": "text", "align": "left", "baseline": "middle", "fontSize": 12, "font": "Liberation Sans", "fontStyle": "italic", "color": "#333"},
"encoding": {
"x": {"datum": -1750, "type": "quantitative"},
"y": {"datum": 0, "type": "quantitative"},
"text": {"field": "label"}
}
},
{
"transform": [{"filter": "datum.kind === 's' && (datum.id === 's01' || datum.id === 's13')"}],
"mark": {"type": "rule", "color": "#444", "strokeWidth": 1.3},
"encoding": {"y": {"datum": -20.3, "type": "quantitative"}}
},
{
"transform": [{"filter": "datum.kind === 's' && datum.id === 's01'"}],
"mark": {"type": "text", "align": "center", "baseline": "middle", "fontSize": 18, "font": "Liberation Sans", "color": "#222"},
"encoding": {
"x": {"datum": -45, "type": "quantitative"},
"y": {"datum": 0, "type": "quantitative"},
"text": {"field": "site"}
}
},
{
"transform": [{"filter": "datum.kind === 's' && datum.id === 's13'"}],
"mark": {"type": "text", "align": "right", "baseline": "middle", "fontSize": 18, "font": "Liberation Sans", "color": "#222"},
"encoding": {
"x": {"datum": 1617, "type": "quantitative"},
"y": {"datum": -3, "type": "quantitative"},
"text": {"field": "site"}
}
},
{
"transform": [{"filter": "datum.kind === 's' && datum.id === 's22'"}],
"mark": {"type": "text", "align": "right", "baseline": "alphabetic", "fontSize": 18, "font": "Liberation Sans", "color": "#222"},
"encoding": {
"x": {"datum": 1612, "type": "quantitative"},
"y": {"datum": -26, "type": "quantitative"},
"text": {"field": "site"}
}
}
]
},
"config": {
"font": "Liberation Sans",
"view": {"stroke": null},
"axisY": {"disable": true},
"header": {"labelPadding": 0, "titlePadding": 0}
}
}
